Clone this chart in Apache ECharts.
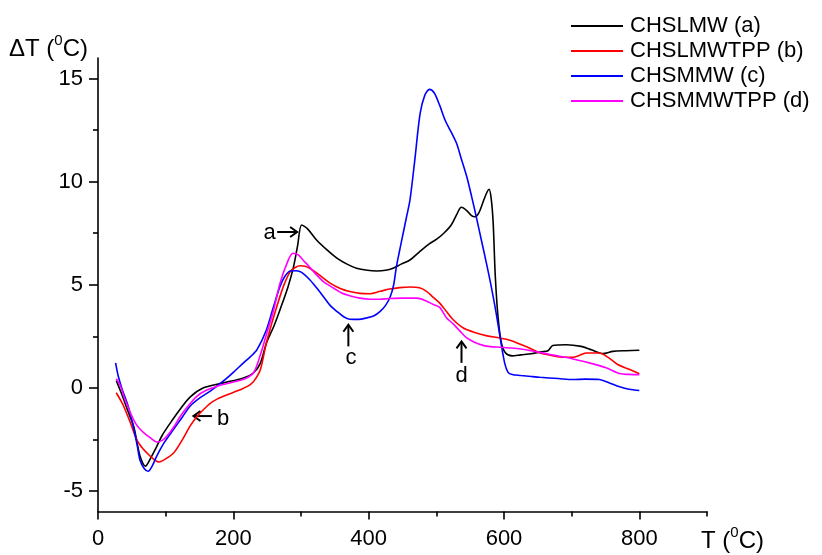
<!DOCTYPE html>
<html>
<head>
<meta charset="utf-8">
<script src="https://cdn.jsdelivr.net/npm/echarts@6/dist/echarts.min.js"></script>
<style>
	html,body{margin:0;padding:0;background:#fff;}
	#main{width:822px;height:555px;}
</style>
</head>
<body>
<div id="main"></div>
<script>
// 曲线数据：温度 T (°C) 与 ΔT (°C)
var blackT = [27,35,45,53,62,70,78,86,95,107,120,136,156,185,215,230,240,249,260,269,281,289,295,301,310,323,338,353,368,382,398,412,425,436,448,461,475,490,500,511,522,530,537,545,552,557,563,570,575,578,581,584,587,591,596,602,612,625,640,655,665,672,692,714,729,746,761,780,800];
var blackV = [0.35,-0.3,-1.2,-1.9,-3.3,-3.8,-3.4,-2.9,-2.3,-1.7,-1.1,-0.45,0.0,0.24,0.48,0.73,1.2,2.18,3.0,3.79,4.92,5.88,6.9,7.9,7.7,7.17,6.7,6.29,6.0,5.8,5.7,5.67,5.7,5.8,6.0,6.2,6.6,7.0,7.2,7.5,7.9,8.4,8.76,8.6,8.35,8.3,8.5,9.1,9.5,9.63,9.2,8.0,5.5,3.5,2.2,1.7,1.55,1.6,1.65,1.75,1.8,2.05,2.09,2.01,1.85,1.66,1.77,1.8,1.82];

var redT = [27,35,40,48,57,65,72,80,90,100,112,125,136,146,156,166,176,190,205,215,225,232,240,249,262,274,284,292,299,306,313,328,343,358,372,387,402,417,431,446,461,475,486,495,505,515,525,540,559,575,594,610,625,640,653,668,682,702,712,722,741,755,768,785,800];
var redV = [-0.24,-0.7,-1.05,-1.7,-2.5,-2.9,-3.15,-3.4,-3.6,-3.45,-3.15,-2.5,-1.86,-1.4,-1.05,-0.75,-0.55,-0.35,-0.16,-0.02,0.16,0.4,0.89,2.2,3.7,4.92,5.64,5.85,5.92,5.9,5.8,5.45,5.08,4.82,4.67,4.58,4.56,4.68,4.79,4.86,4.89,4.85,4.67,4.4,4.11,3.7,3.3,2.9,2.66,2.52,2.42,2.3,2.1,1.9,1.69,1.58,1.5,1.48,1.58,1.69,1.69,1.45,1.13,0.9,0.68];

var blueT = [26,30,36,43,48,53,58,62,68,74,80,87,98,112,124,136,150,166,185,200,215,225,235,249,259,269,276,284,293,301,313,323,333,343,353,363,372,385,397,408,417,425,432,437,441,446,451,456,461,468,476,483,490,497,505,513,522,530,537,545,552,559,567,574,580,588,595,601,606,612,625,640,653,680,702,720,741,755,771,785,800];
var blueV = [1.21,0.56,-0.1,-0.73,-1.3,-2.0,-2.8,-3.5,-3.9,-4.05,-3.8,-3.3,-2.65,-2.0,-1.45,-0.89,-0.5,-0.16,0.32,0.75,1.21,1.5,1.85,2.82,3.9,4.92,5.4,5.67,5.68,5.6,5.24,4.85,4.43,4.0,3.71,3.45,3.33,3.32,3.39,3.5,3.71,4.0,4.43,5.0,5.88,6.7,7.5,8.3,9.1,11.0,13.3,14.2,14.48,14.3,13.7,12.98,12.4,11.85,11.1,10.24,9.3,8.3,7.1,6.05,5.1,3.7,2.3,1.2,0.75,0.65,0.6,0.55,0.51,0.45,0.4,0.42,0.4,0.25,0.05,-0.07,-0.13];

var magT = [27,33,38,44,50,56,62,70,77,87,95,102,112,122,134,146,160,176,190,205,218,230,240,249,259,269,280,288,296,303,313,323,335,348,360,372,387,402,417,431,450,471,486,495,505,515,525,535,545,557,569,580,594,610,625,640,653,668,682,702,726,751,771,785,800];
var magV = [0.44,0.1,-0.4,-0.9,-1.37,-1.75,-2.0,-2.25,-2.42,-2.63,-2.55,-2.34,-1.9,-1.37,-0.85,-0.41,-0.12,0.08,0.2,0.32,0.45,0.73,1.6,2.6,3.7,5.08,6.1,6.53,6.45,6.2,5.85,5.48,5.1,4.84,4.6,4.47,4.35,4.3,4.3,4.33,4.35,4.35,4.2,4.05,3.9,3.4,3.1,2.75,2.42,2.2,2.06,2.0,1.97,1.93,1.88,1.8,1.72,1.62,1.53,1.4,1.21,0.97,0.69,0.65,0.64];

var seriesNames = ['CHSLMW (a)','CHSLMWTPP (b)','CHSMMW (c)','CHSMMWTPP (d)'];

// 刻度
var xMajor = [0,200,400,600,800];
var xMinor = [100,300,500,700,900];
var yMajor = [-5,0,5,10,15];
var yMinor = [-2.5,2.5,7.5,12.5];

// 图中标注 a b c d（数据坐标）
var annotLabels = ['a','b','c','d'];
var annotTextAt = [[253.6,7.5],[185,-1.49],[374,1.45],[537.2,0.56]];
var arrowFrom = [[264.8,7.56],[168.3,-1.37],[370,2.01],[537.2,1.21]];
var arrowTo = [[294.3,7.56],[141.1,-1.37],[370,3.06],[537.2,2.25]];

function pairs(ts, vs){
	return ts.map(function(t,i){ return [t, vs[i]]; });
}

var FONT = '"Liberation Sans", Arial, sans-serif';
var myChart = echarts.init(document.getElementById('main'));

function lineSeries(name, color, ts, vs){
	return {
		name: name,
		type: 'line',
		xAxisIndex: 0,
		yAxisIndex: 0,
		symbol: 'none',
		smooth: 0.3,
		lineStyle: {color: color, width: 1.6},
		itemStyle: {color: color},
		data: pairs(ts, vs)
	};
}

var option = {
	animation: false,
	textStyle: {fontFamily: FONT},
	grid: {left: 98, right: 115, top: 58, bottom: 43.5},
	legend: {
		orient: 'vertical',
		left: 566,
		top: 10,
		icon: 'rect',
		itemWidth: 52,
		itemHeight: 2,
		itemGap: 3,
		data: seriesNames,
		textStyle: {fontFamily: FONT, fontSize: 22, color: '#000', lineHeight: 22, padding: [0,0,0,2]}
	},
	xAxis: [{
		type: 'value',
		min: 0,
		max: 900,
		axisLine: {onZero: false, lineStyle: {color: '#000', width: 1.6}},
		axisTick: {customValues: xMajor, length: 8, lineStyle: {color: '#000', width: 1.6}},
		axisLabel: {customValues: xMajor, margin: 16, fontSize: 22, color: '#000', fontFamily: FONT},
		splitLine: {show: false}
	},{
		type: 'value',
		min: 0,
		max: 900,
		position: 'bottom',
		axisLine: {show: false, onZero: false},
		axisTick: {customValues: xMinor, length: 5, lineStyle: {color: '#000', width: 1.6}},
		axisLabel: {show: false},
		splitLine: {show: false}
	}],
	yAxis: [{
		type: 'value',
		min: -6,
		max: 16,
		axisLine: {show: true, onZero: false, lineStyle: {color: '#000', width: 1.6}},
		axisTick: {show: true, customValues: yMajor, length: 9, lineStyle: {color: '#000', width: 1.6}},
		axisLabel: {customValues: yMajor, margin: 15, fontSize: 22, color: '#000', fontFamily: FONT},
		splitLine: {show: false}
	},{
		type: 'value',
		min: -6,
		max: 16,
		position: 'left',
		axisLine: {show: false, onZero: false},
		axisTick: {show: true, customValues: yMinor, length: 5, lineStyle: {color: '#000', width: 1.6}},
		axisLabel: {show: false},
		splitLine: {show: false}
	}],
	series: [
		lineSeries(seriesNames[0], '#000000', blackT, blackV),
		lineSeries(seriesNames[1], '#ff0000', redT, redV),
		lineSeries(seriesNames[2], '#0000ff', blueT, blueV),
		lineSeries(seriesNames[3], '#ff00ff', magT, magV)
	]
};
myChart.setOption(option);

// 坐标轴标题 + 箭头标注
var titleRich = {
	n: {fontSize: 24, fontFamily: FONT, color: '#000', lineHeight: 28, verticalAlign: 'bottom'},
	s: {fontSize: 15, fontFamily: FONT, color: '#000', lineHeight: 28, verticalAlign: 'top', padding: [0,0,9,0]}
};
var graphics = [{
	type: 'text', left: 9, top: 33,
	style: {text: '{n|ΔT (}{s|0}{n|C)}', rich: titleRich}
},{
	type: 'text', left: 701, top: 525,
	style: {text: '{n|T (}{s|0}{n|C)}', rich: titleRich}
}];

for(var i = 0; i < annotLabels.length; i++){
	var tp = myChart.convertToPixel({gridIndex: 0}, annotTextAt[i]);
	var p0 = myChart.convertToPixel({gridIndex: 0}, arrowFrom[i]);
	var p1 = myChart.convertToPixel({gridIndex: 0}, arrowTo[i]);
	var dx = p1[0]-p0[0], dy = p1[1]-p0[1];
	var len = Math.sqrt(dx*dx+dy*dy);
	var ux = dx/len, uy = dy/len;
	var h = 7, w = 5;
	graphics.push({
		type: 'text', x: tp[0], y: tp[1],
		style: {text: annotLabels[i], fontSize: 22, fontFamily: FONT, fill: '#000', align: 'center', verticalAlign: 'middle'}
	});
	graphics.push({
		type: 'line',
		shape: {x1: p0[0], y1: p0[1], x2: p1[0]-ux, y2: p1[1]-uy},
		style: {stroke: '#000', lineWidth: 2}
	});
	graphics.push({
		type: 'polyline',
		shape: {points: [
			[p1[0]-ux*h-uy*w, p1[1]-uy*h+ux*w],
			[p1[0], p1[1]],
			[p1[0]-ux*h+uy*w, p1[1]-uy*h-ux*w]
		]},
		style: {stroke: '#000', lineWidth: 2, fill: null}
	});
}
myChart.setOption({graphic: graphics});
</script>
</body>
</html>
